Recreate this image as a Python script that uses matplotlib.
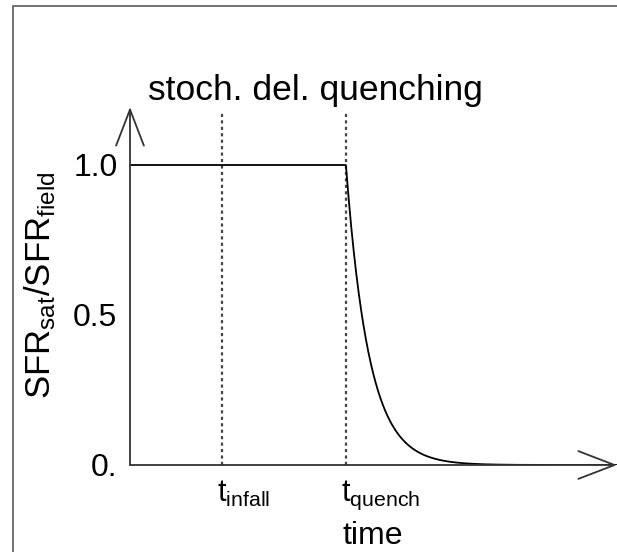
import matplotlib

matplotlib.use("Agg")
import matplotlib.pyplot as plt
import matplotlib.transforms as mtransforms
import numpy as np
from matplotlib.patches import Rectangle

plt.rcParams["font.family"] = ["Liberation Sans", "DejaVu Sans"]
plt.rcParams["mathtext.fontset"] = "custom"
plt.rcParams["mathtext.rm"] = "Liberation Sans"
plt.rcParams["mathtext.it"] = "Liberation Sans"

# sketch values (arbitrary time units)
t_infall = 1.0
t_quench = 2.35
tau = 0.25
t_end = 5.3
sfr_before = 1.0
y_ticks = [0.0, 0.5, 1.0]
y_ticklabels = ["0.", "0.5", "1.0"]
x_ticklabels = [r"$\mathrm{t_{infall}}$", r"$\mathrm{t_{quench}}$"]

W, H = 617, 552
fig = plt.figure(figsize=(W / 100, H / 100), dpi=100)

# gray frame round the picture
fig.patches.append(Rectangle((13 / W, -0.2), 1.5, 1 - 6 / H + 0.2, transform=fig.transFigure,
                             fill=False, edgecolor="#666666", lw=1.3))

ax = fig.add_axes([130 / W, (H - 465) / H, 487 / W, 358 / H])
ax.set_xlim(0, t_end)
ax.set_ylim(0, 358 / 300)
for s in ax.spines.values():
    s.set_visible(False)

# SFR track: flat until quench, then exponential decline
t = np.linspace(0, t_end, 800)
sfr = np.where(t < t_quench, sfr_before, sfr_before * np.exp(-(t - t_quench) / tau))
ax.plot(t, sfr, color="black", lw=1.3)

# dashed time markers
for tx in (t_infall, t_quench):
    ax.plot([tx, tx], [0, 1.175], color="#444444", lw=1.6, ls=(0, (1.4, 1.5)), zorder=1)

# axes drawn as arrows
arrow = dict(arrowstyle="->,head_length=2.6,head_width=1.0", color="#333333", lw=1.3,
             shrinkA=0, shrinkB=0)
ax.annotate("", xy=(t_end, 0), xytext=(0, 0), arrowprops=arrow, annotation_clip=False)
ax.annotate("", xy=(0, 358 / 300), xytext=(0, 0), arrowprops=arrow, annotation_clip=False)

ax.set_yticks(y_ticks, y_ticklabels)
ax.tick_params(axis="y", length=0, pad=9, labelsize=23)
ax.set_xticks([t_infall, t_quench], x_ticklabels)
ax.tick_params(axis="x", length=0, pad=10, labelsize=22)
for lab in ax.get_xticklabels():
    lab.set_horizontalalignment("left")
    lab.set_transform(lab.get_transform() + mtransforms.ScaledTranslation(-5 / 100, 0, fig.dpi_scale_trans))

trans = mtransforms.blended_transform_factory(ax.transData, fig.transFigure)
ax.text(t_quench - 0.04, 1 - 551 / H, "time", transform=trans, fontsize=23, ha="left", va="bottom")

fig.text(40 / W, 1 - 285 / H, r"$\mathrm{SFR_{sat}/SFR_{field}}$", rotation=90,
         fontsize=25, ha="center", va="center")
fig.text(315 / W, 1 - 100 / H, "stoch. del. quenching", fontsize=25.5, ha="center", va="baseline")

fig.savefig("out.png", dpi=100)
